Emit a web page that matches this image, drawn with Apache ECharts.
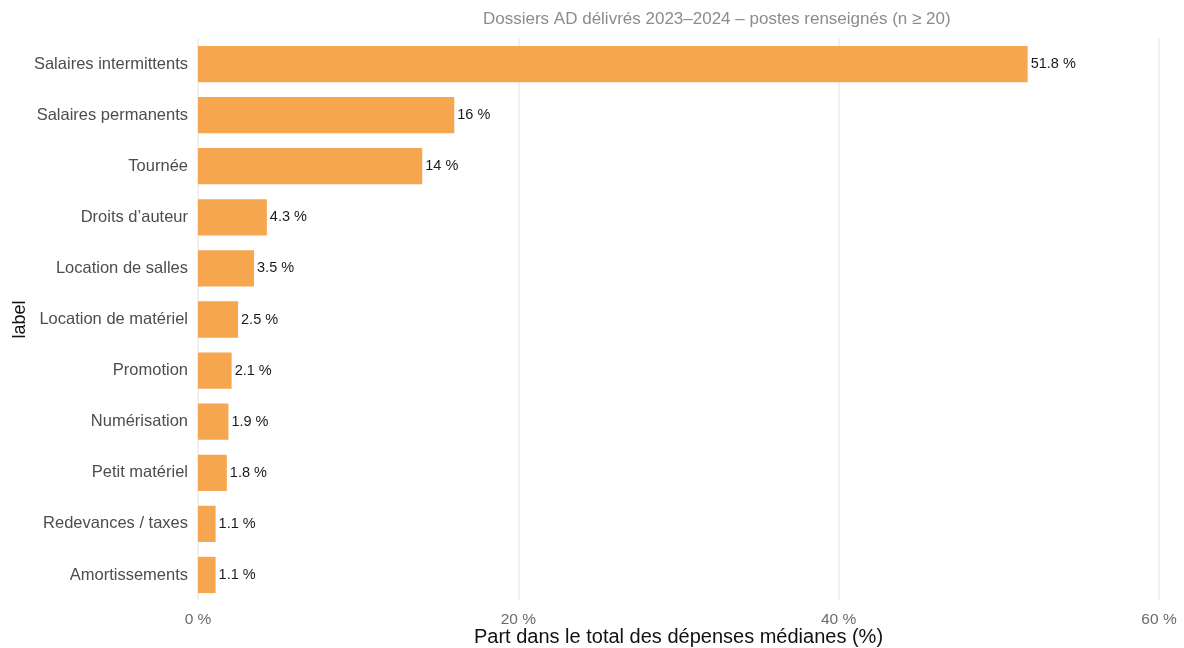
<!DOCTYPE html>
<html>
<head>
<meta charset="utf-8">
<script src="https://cdn.jsdelivr.net/npm/echarts@6/dist/echarts.min.js"></script>
<style>html,body{margin:0;padding:0;background:#fff}#c{width:1184px;height:648px}</style>
</head>
<body>
<div id="c"></div>
<script>
const categories = ["Salaires intermittents","Salaires permanents","Tournée","Droits d’auteur","Location de salles","Location de matériel","Promotion","Numérisation","Petit matériel","Redevances / taxes","Amortissements"];
const values = [51.8, 16, 14, 4.3, 3.5, 2.5, 2.1, 1.9, 1.8, 1.1, 1.1];
const xTicks = [0, 20, 40, 60];
const titleText = "Dossiers AD délivrés 2023–2024 – postes renseignés (n ≥ 20)";
const xTitle = "Part dans le total des dépenses médianes (%)";
const yTitle = "label";

const font = "Liberation Sans, Arial, sans-serif";
const chart = echarts.init(document.getElementById('c'), null, {renderer:'canvas'});
chart.setOption({
  animation: false,
  backgroundColor: '#ffffff',
  title: {
    text: titleText, left: 478, top: 6,
    textStyle: {fontFamily: font, fontSize: 17, fontWeight: 'normal', color: '#8c8c8c'}
  },
  grid: {left: 198, right: 25, top: 38.5, height: 562, outerBoundsMode: 'none', containLabel: false},
  xAxis: {
    type: 'value', min: xTicks[0], max: xTicks[xTicks.length-1], interval: 20,
    axisLine: {show: false}, axisTick: {show: false},
    splitLine: {show: true, lineStyle: {color: '#ebebeb', width: 1.5}},
    axisLabel: {formatter: v => v + ' %', fontFamily: font, fontSize: 15.5, color: '#6b6b6b', margin: 11},
    name: xTitle, nameLocation: 'middle', nameGap: 27, nameMoveOverlap: false,
    nameTextStyle: {fontFamily: font, fontSize: 20, color: '#111'}
  },
  yAxis: {
    type: 'category', data: categories, inverse: true,
    axisLine: {show: false}, axisTick: {show: false},
    axisLabel: {fontFamily: font, fontSize: 16.5, color: '#4d4d4d', margin: 10},
    name: yTitle, nameLocation: 'middle', nameGap: 169, nameMoveOverlap: false,
    nameTextStyle: {fontFamily: font, fontSize: 18, color: '#111'}
  },
  series: [{
    type: 'bar', data: values, barCategoryGap: '29%',
    itemStyle: {color: '#f7a650'},
    label: {show: true, position: 'right', distance: 3, formatter: p => p.value + ' %',
      fontFamily: font, fontSize: 14.5, color: '#1a1a1a'}
  }]
});
</script>
</body>
</html>
